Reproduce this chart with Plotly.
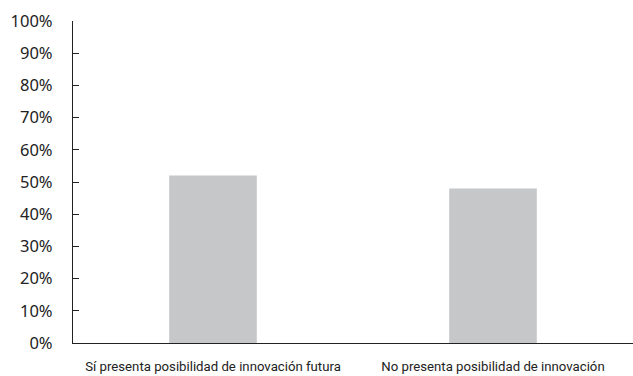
import plotly.graph_objects as go

categories = ["Sí presenta posibilidad de innovación futura",
              "No presenta posibilidad de innovación"]
shares = [0.52, 0.48]

fig = go.Figure(go.Bar(x=categories, y=shares, marker_color="#c6c7c9",
                       marker_line_width=0, width=0.313))

fig.update_layout(
    width=633, height=376,
    margin=dict(l=73, r=0, t=21, b=33),
    plot_bgcolor="white", paper_bgcolor="white",
    font=dict(family="Noto Sans", size=15, color="#222222"),
    showlegend=False,
)
fig.update_yaxes(range=[0, 1], dtick=0.1, tickformat=".0%",
                 showgrid=False, zeroline=False,
                 showline=True, linecolor="#222222", linewidth=1.3,
                 ticks="inside", ticklen=6, tickcolor="#222222", tickwidth=1.3,
                 tickfont=dict(size=16.5),
                 ticklabelstandoff=16)
fig.update_xaxes(showline=True, linecolor="#222222", linewidth=1.3,
                 showgrid=False, ticks="",
                 tickfont=dict(family="Roboto", size=13.2),
                 ticklabelstandoff=11)

fig.write_html("out.html")
